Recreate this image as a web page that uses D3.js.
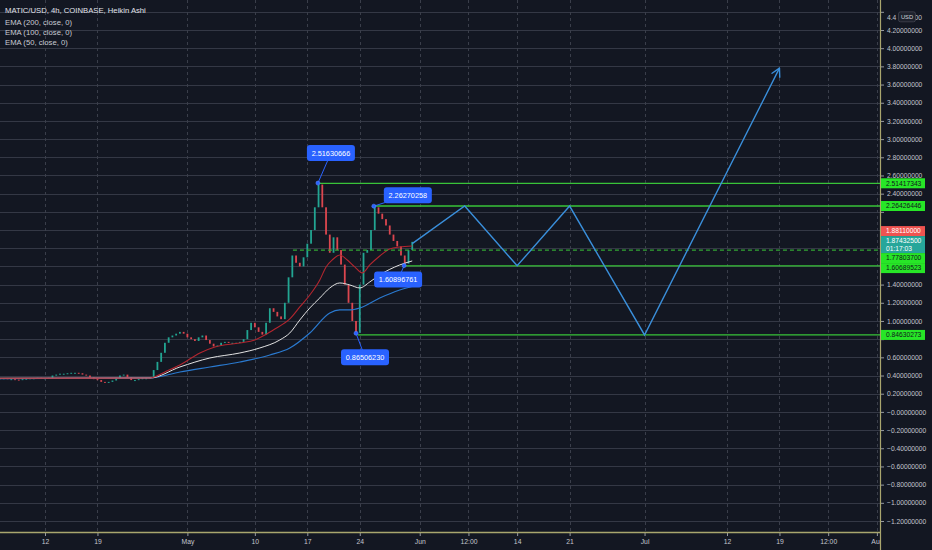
<!DOCTYPE html>
<html><head><meta charset="utf-8">
<script src="https://cdn.jsdelivr.net/npm/d3@7"></script>
<style>body{margin:0;background:#131722;}svg{display:block;}text{font-family:"Liberation Sans",Arial,sans-serif;}</style>
</head><body><svg id="c" width="932" height="550"></svg>
<script>
// ---------- DATA ----------
const candleStart = "2021-04-06T00"; // 12h candles (Heikin Ashi, resampled)
const candleStepHours = 12;
const haClose = [
0.37,0.37,0.36,0.36,0.355,0.35,0.36,0.365,0.37,0.37,0.375,0.37,
0.37,0.375,0.40,0.41,0.42,0.42,0.425,0.43,0.43,0.425,0.41,0.40,
0.38,0.36,0.35,0.33,0.32,0.33,0.345,0.37,0.40,0.41,0.38,0.35,
0.35,0.36,0.37,0.37,0.38,0.46,0.55,0.65,0.76,0.82,0.84,0.86,
0.88,0.86,0.82,0.80,0.78,0.82,0.84,0.79,0.75,0.72,0.73,0.76,
0.77,0.76,0.76,0.76,0.77,0.80,0.90,0.98,0.93,0.88,0.85,0.98,
1.14,1.10,1.05,1.02,1.20,1.48,1.72,1.64,1.60,1.70,1.85,2.00,
2.25,2.50,2.25,1.95,1.75,1.92,1.78,1.62,1.40,1.20,1.00,0.87,
1.40,1.75,1.78,2.00,2.25,2.18,2.12,2.05,1.95,1.88,1.82,1.72,
1.63,1.78,1.87];

const ema200 = [["2021-04-06T00",0.365],["2021-04-26T00",0.373],["2021-04-30T00",0.439],["2021-05-04T00",0.494],
["2021-05-08T00",0.549],["2021-05-12T00",0.626],["2021-05-14T16",0.703],["2021-05-17T08",0.868],["2021-05-20T00",1.088],
["2021-05-21T08",1.121],["2021-05-22T16",1.121],["2021-05-24T00",1.143],["2021-05-26T16",1.253],["2021-05-29T08",1.341],["2021-05-31T12",1.39]];
const ema100 = [["2021-04-06T00",0.37],["2021-04-26T00",0.373],["2021-04-30T00",0.494],["2021-05-04T00",0.593],
["2021-05-08T00",0.648],["2021-05-10T16",0.703],["2021-05-13T08",0.791],["2021-05-14T16",0.868],["2021-05-16T00",1.011],
["2021-05-17T08",1.143],["2021-05-18T16",1.253],["2021-05-20T00",1.363],["2021-05-21T08",1.418],["2021-05-22T16",1.396],
["2021-05-24T00",1.363],["2021-05-25T08",1.429],["2021-05-26T16",1.506],["2021-05-29T08",1.616],["2021-05-31T00",1.66]];
const ema50 = [["2021-04-06T00",0.37],["2021-04-26T00",0.373],["2021-04-28T00",0.44],["2021-04-30T00",0.516],
["2021-05-02T16",0.648],["2021-05-04T16",0.714],["2021-05-08T00",0.758],["2021-05-10T00",0.791],["2021-05-11T08",0.846],
["2021-05-12T16",0.912],["2021-05-14T16",1.022],["2021-05-16T00",1.154],["2021-05-17T08",1.286],["2021-05-18T16",1.451],
["2021-05-19T12",1.594],["2021-05-20T08",1.671],["2021-05-21T08",1.726],["2021-05-22T08",1.671],["2021-05-23T08",1.594],
["2021-05-24T08",1.528],["2021-05-25T08",1.616],["2021-05-26T16",1.715],["2021-05-28T00",1.792],["2021-05-29T08",1.814],["2021-05-31T00",1.825]];

const projection = [["2021-05-31T00",1.85],["2021-06-07T00",2.264],["2021-06-14T00",1.607],["2021-06-21T00",2.264],["2021-07-01T00",0.846],["2021-07-19T00",3.78]];

const levels = [
 {value:2.51417343, start:"2021-05-18T10", label:"2.51417343", dashed:false},
 {value:2.26426446, start:"2021-05-25T21", label:"2.26426446", dashed:false},
 {value:1.77803700, start:"2021-05-15T02", label:"1.77803700", dashed:true},
 {value:1.60689523, start:"2021-05-30T00", label:"1.60689523", dashed:false},
 {value:0.84630273, start:"2021-05-23T18", label:"0.84630273", dashed:false}];

const callouts = [
 {date:"2021-05-18T10", value:2.51630666, text:"2.51630666", dx:13, dy:-30},
 {date:"2021-05-25T21", value:2.26270258, text:"2.26270258", dx:34, dy:-11},
 {date:"2021-05-29T22", value:1.60896761, text:"1.60896761", dx:-6, dy:14},
 {date:"2021-05-23T12", value:0.86506230, text:"0.86506230", dx:9, dy:24}];

const priceHigh = 1.88110000;
const priceLast = 1.87432500;
const countdown = "01:17:03";

const yTicks = [4.4,4.2,4.0,3.8,3.6,3.4,3.2,3.0,2.8,2.6,2.4,2.2,2.0,1.8,1.6,1.4,1.2,1.0,0.8,0.6,0.4,0.2,0,-0.2,-0.4,-0.6,-0.8,-1.0,-1.2];
const yTickLabels = ["4.40000000","4.20000000","4.00000000","3.80000000","3.60000000","3.40000000","3.20000000","3.00000000","2.80000000","2.60000000","2.40000000","2.20000000","2.00000000","1.80000000","1.60000000","1.40000000","1.20000000","1.00000000","0.80000000","0.60000000","0.40000000","0.20000000","\u22120.00000000","\u22120.20000000","\u22120.40000000","\u22120.60000000","\u22120.80000000","\u22121.00000000","\u22121.20000000"];
const xTickDates = ["2021-04-12T00","2021-04-19T00","2021-05-01T00","2021-05-10T00","2021-05-17T00","2021-05-24T00","2021-06-01T00","2021-06-07T12","2021-06-14T00","2021-06-21T00","2021-07-01T00","2021-07-12T00","2021-07-19T00","2021-07-25T12","2021-08-01T00"];
const xTickLabels = ["12","19","May","10","17","24","Jun","12:00","14","21","Jul","12","19","12:00","Aug"];
const legendLines = ["MATIC/USD, 4h, COINBASE, Heikin Ashi","EMA (200, close, 0)","EMA (100, close, 0)","EMA (50, close, 0)"];

// ---------- SETUP ----------
const W=932,H=550, PR=880, PB=532;
const parse = d3.utcParse("%Y-%m-%dT%H");
const x = d3.scaleUtc().domain([parse("2021-04-12T00"), parse("2021-07-12T00")]).range([45,727]);
const y = d3.scaleLinear().domain([-1.2,4.2]).range([521,30]);
const svg = d3.select("#c");
svg.append("rect").attr("width",W).attr("height",H).attr("fill","#131722");
svg.append("clipPath").attr("id","plot").append("rect").attr("x",0).attr("y",0).attr("width",PR).attr("height",PB);
const plot = svg.append("g").attr("clip-path","url(#plot)");

// grid
plot.selectAll(".hg").data(yTicks).join("line")
  .attr("x1",0).attr("x2",PR).attr("y1",d=>Math.round(y(d))+0.5).attr("y2",d=>Math.round(y(d))+0.5)
  .attr("stroke","#343845").attr("stroke-width",1);
plot.selectAll(".vg").data(xTickDates).join("line")
  .attr("x1",d=>Math.round(x(parse(d)))+0.5).attr("x2",d=>Math.round(x(parse(d)))+0.5).attr("y1",0).attr("y2",PB)
  .attr("stroke","#3a3e4a").attr("stroke-dasharray","3,3").attr("stroke-width",1);

// candles
const t0 = parse(candleStart);
const candles = haClose.map((c,i)=>({t:new Date(+t0 + i*candleStepHours*3600e3), o: i? haClose[i-1]:c, c}));
plot.selectAll(".cd").data(candles).join("rect")
  .attr("x",d=>x(d.t)-0.9).attr("width",1.8)
  .attr("y",d=>y(Math.max(d.o,d.c)))
  .attr("height",d=>Math.max(1,Math.abs(y(d.o)-y(d.c))))
  .attr("fill",d=>d.c>=d.o?"#22a592":"#dc464f");

// EMAs
const line = d3.line().x(d=>x(parse(d[0]))).y(d=>y(d[1])).curve(d3.curveMonotoneX);
[[ema200,"#2a7ad0",1.2],[ema100,"#e2e2e2",1.0],[ema50,"#b3262f",1.1]].forEach(([data,col,w])=>{
  plot.append("path").attr("d",line(data)).attr("fill","none").attr("stroke",col).attr("stroke-width",w);
});

// levels
levels.forEach(l=>{
  plot.append("line").attr("x1",x(parse(l.start))).attr("x2",PR).attr("y1",y(l.value)).attr("y2",y(l.value))
    .attr("stroke",l.dashed?"#33a833":"#39c439").attr("stroke-width",1.3)
    .attr("stroke-dasharray",l.dashed?"4,3":null);
});

// projection path
const pline = d3.line().x(d=>x(parse(d[0]))).y(d=>y(d[1]));
plot.append("path").attr("d",pline(projection)).attr("fill","none").attr("stroke","#3a8fdb").attr("stroke-width",1.4).attr("stroke-linejoin","miter");
{
  const a = projection[projection.length-2], b = projection[projection.length-1];
  const ax=x(parse(a[0])), ay=y(a[1]), bx=x(parse(b[0])), by=y(b[1]);
  const ang = Math.atan2(by-ay,bx-ax), L=9;
  [0.5,-0.5].forEach(s=>{
    plot.append("line").attr("x1",bx).attr("y1",by)
      .attr("x2",bx-L*Math.cos(ang+s)).attr("y2",by-L*Math.sin(ang+s))
      .attr("stroke","#3a8fdb").attr("stroke-width",1.4).attr("stroke-linecap","round");
  });
}

// callouts
callouts.forEach(c=>{
  const px=x(parse(c.date)), py=y(c.value);
  const bx=px+c.dx, by=py+c.dy, bw=48, bh=16;
  plot.append("line").attr("x1",px).attr("y1",py).attr("x2",bx).attr("y2",by).attr("stroke","#2962ff").attr("stroke-width",1);
  plot.append("circle").attr("cx",px).attr("cy",py).attr("r",2).attr("fill","#2962ff").attr("stroke","#5b86ff").attr("stroke-width",0.6);
  plot.append("rect").attr("x",bx-bw/2).attr("y",by-bh/2).attr("width",bw).attr("height",bh).attr("rx",3).attr("fill","#2962ff");
  plot.append("text").attr("x",bx).attr("y",by+2.6).attr("text-anchor","middle").attr("font-size",7.3).attr("fill","#ffffff").text(c.text);
});

// legend
legendLines.forEach((s,i)=>{
  svg.append("text").attr("x",5).attr("y",[13,25,35,45][i]).attr("font-size",7.7)
    .attr("fill",i?"#c8cbd3":"#e0e3eb").text(s);
});

// right-axis price label layout (collision resolution)
const axLabels = [
 ...levels.map(l=>({v:l.value, lines:[l.label], bg:"#27e627", fg:"#10141c", h:10})),
 {v:priceHigh, lines:[priceHigh.toFixed(8)], bg:"#ef5350", fg:"#ffffff", h:10},
 {v:priceLast, lines:[priceLast.toFixed(8), countdown], bg:"#26a69a", fg:"#ffffff", h:17}
];
axLabels.forEach(d=>d.y=y(d.v));
axLabels.sort((a,b)=>a.y-b.y || (a.h-b.h));
let groups = axLabels.map(d=>({items:[d], h:d.h, c:d.y}));
let changed=true;
while(changed){
  changed=false;
  for(let i=0;i<groups.length-1;i++){
    const a=groups[i], b=groups[i+1];
    if(a.c+a.h/2 > b.c-b.h/2){
      const items=a.items.concat(b.items);
      groups.splice(i,2,{items,h:a.h+b.h,c:d3.mean(items,d=>d.y)}); changed=true; break;
    }
  }
}
const boxes=[];
groups.forEach(g=>{ let top=g.c-g.h/2; g.items.forEach(d=>{ d.top=top; boxes.push([top,top+d.h]); top+=d.h; }); });

// axes
const yAxis = d3.axisRight(y).tickValues(yTicks).tickFormat((d,i)=>yTickLabels[i]).tickSize(3).tickPadding(3);
const ya = svg.append("g").attr("transform",`translate(${PR+1},0)`).call(yAxis);
ya.select(".domain").remove();
ya.selectAll("line").attr("stroke","#9598a1");
ya.selectAll("text").attr("font-size",6.7).attr("fill","#c3c6ce").attr("font-family","Liberation Sans, Arial, sans-serif");
// hide tick labels mostly covered by price labels
ya.selectAll(".tick").filter(d=>boxes.some(([t,b])=>y(d)>t-1 && y(d)<b+1)).select("text").remove();
// top label partly covered by the currency badge: draw the visible parts
ya.selectAll(".tick").filter(d=>d===4.4).select("text").remove();

const xAxis = d3.axisBottom(x).tickValues(xTickDates.map(parse)).tickFormat((d,i)=>xTickLabels[i]).tickSize(3).tickPadding(3);
const xa = svg.append("g").attr("transform",`translate(0,${PB+1})`).call(xAxis);
xa.select(".domain").remove();
xa.selectAll("line").attr("stroke","#9598a1");
xa.selectAll("text").attr("font-size",6.8).attr("fill","#c3c6ce").attr("font-family","Liberation Sans, Arial, sans-serif");
svg.append("rect").attr("x",PR+1).attr("y",PB).attr("width",W-PR).attr("height",H-PB).attr("fill","#131722");

// border lines
svg.append("line").attr("x1",0).attr("x2",PR+1).attr("y1",PB+0.5).attr("y2",PB+0.5).attr("stroke","#a9a66e").attr("stroke-width",1.6);
svg.append("line").attr("x1",PR+0.5).attr("x2",PR+0.5).attr("y1",0).attr("y2",H).attr("stroke","#a9a66e").attr("stroke-width",1.2);

// top tick label with USD badge over it
{
  const ty = y(4.4)+8;
  svg.append("text").attr("x",PR+7).attr("y",ty).attr("font-size",6.7).attr("fill","#c3c6ce").text("4.4");
  svg.append("text").attr("x",PR+42).attr("y",ty).attr("text-anchor","end").attr("font-size",6.7).attr("fill","#c3c6ce").text("00");
  svg.append("rect").attr("x",898.5).attr("y",ty-8).attr("width",17).attr("height",10).attr("rx",2).attr("fill","#1e222d").attr("stroke","#50535e").attr("stroke-width",0.6);
  svg.append("text").attr("x",907).attr("y",ty-0.8).attr("text-anchor","middle").attr("font-size",5.8).attr("fill","#d1d4dc").text("USD");
}

// draw price labels
axLabels.forEach(d=>{
  svg.append("rect").attr("x",PR+1).attr("y",d.top).attr("width",44).attr("height",d.h).attr("fill",d.bg);
  d.lines.forEach((s,k)=>{
    svg.append("text").attr("x",PR+6).attr("y",d.top+7.3+k*7.5).attr("font-size",6.7).attr("fill",d.fg).text(s);
  });
});
</script></body></html>
